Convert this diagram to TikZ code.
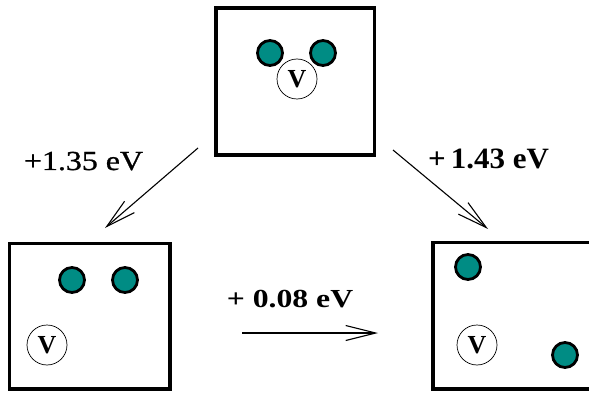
\documentclass[tikz,border=0pt]{standalone}
\usepackage{fontspec}
\newfontfamily\labelfont{Liberation Serif}
\newfontfamily\heavylabelfont[FakeBold=0.8]{Liberation Serif}
\usetikzlibrary{arrows.meta}
\definecolor{atomfill}{RGB}{0,140,132}
\tikzset{
  cell/.style={draw=black, line width=3.5pt, fill=none},
  atom/.style={circle, draw=black, fill=atomfill, line width=2.8pt, minimum size=25pt, inner sep=0pt},
  vac/.style={circle, draw=black, line width=0.7pt, minimum size=40pt, inner sep=0pt, font=\labelfont\fontsize{26}{26}\selectfont\bfseries},
  hop/.style={line width=1.1pt, -{Straight Barb[length=30pt,width=15pt,line width=1.1pt]}},
  energy/.style={anchor=base, inner sep=0pt, font=\labelfont\fontsize{27}{27}\selectfont}
}
\begin{document}
\begin{tikzpicture}[x=1pt, y=-1pt]
  \useasboundingbox (0,0) rectangle (589,393);
  \clip (0,0) rectangle (589,393);

  % initial configuration
  \draw[cell] (216,8) rectangle (374.5,155);
  \node[atom] (t1) at (270,53) {};
  \node[atom] (t2) at (323,53) {};
  \node[vac]  (tv) at (297,79) {V};

  % left configuration
  \draw[cell] (9.5,243.5) rectangle (170,389);
  \node[atom] (l1) at (72,280) {};
  \node[atom] (l2) at (125,280) {};
  \node[vac]  (lv) at (47,345) {V};

  % right configuration (runs past the page edge)
  \draw[cell] (433,242.5) rectangle (600,389);
  \node[atom] (r1) at (468,267) {};
  \node[atom] (r2) at (565,355) {};
  \node[vac]  (rv) at (477,345) {V};

  % transitions
  \coordinate (h1s) at (198,148);
  \coordinate (h1e) at (105,228);
  \coordinate (h2s) at (393,150);
  \coordinate (h2e) at (488,229);
  \coordinate (h3s) at (242,333);
  \coordinate (h3e) at (378,333);
  \draw[hop] (h1s) -- (h1e);
  \draw[hop] (h2s) -- (h2e);
  \draw[hop] (h3s) -- (h3e);

  \node[energy] (e1) at (83.5,170) {\heavylabelfont\fontsize{27.5}{27.5}\selectfont\scalebox{1.16}[1]{+1.35 eV}};
  \node[energy] (e2) at (488.5,168) {\fontsize{29.5}{29.5}\selectfont\scalebox{1.05}[1]{\bfseries +\,1.43 eV}};
  \node[energy] (e3) at (290,307) {\fontsize{26}{26}\selectfont\scalebox{1.22}[1]{\bfseries + 0.08 eV}};
\end{tikzpicture}
\end{document}
